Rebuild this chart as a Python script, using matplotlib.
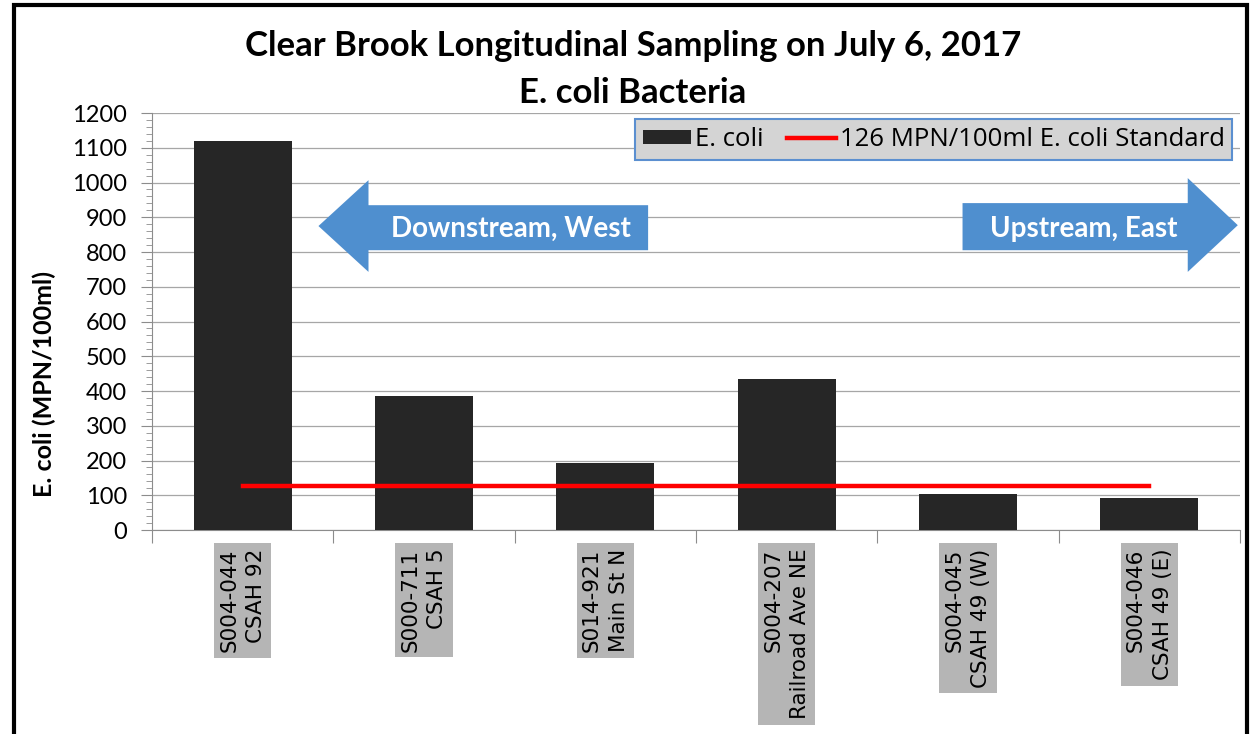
import matplotlib
matplotlib.use("Agg")
import matplotlib.pyplot as plt
from matplotlib.patches import Polygon, Rectangle
from matplotlib.ticker import MultipleLocator

# data
sites = ["S004-044\nCSAH 92", "S000-711\nCSAH 5", "S014-921\nMain St N",
         "S004-207\nRailroad Ave NE", "S004-045\nCSAH 49 (W)", "S004-046\nCSAH 49 (E)"]
ecoli = [1120, 387, 194, 435, 104, 93]
standard = [126, 126, 126, 126, 126, 126]

plt.rcParams['font.family'] = ['Lato', 'DejaVu Sans']

fig = plt.figure(figsize=(12.53, 7.34), dpi=100)
ax = fig.add_axes([0.1213, 0.2779, 0.8683, 0.5681])

x = range(len(sites))
bars = ax.bar(x, ecoli, width=0.54, color='#262626', label='E. coli', zorder=3)
line, = ax.plot(x, standard, color='#ff0000', lw=3.2,
                label='126 MPN/100ml E. coli Standard', zorder=4)

ax.set_xlim(-0.5, len(sites) - 0.5)
ax.set_ylim(0, 1200)
ax.yaxis.set_major_locator(MultipleLocator(100))
ax.yaxis.set_minor_locator(MultipleLocator(20))
ax.grid(axis='y', color='#a6a6a6', lw=0.9, zorder=0)
ax.tick_params(axis='y', which='major', length=8, color='#8c8c8c', labelsize=17, pad=10)
ax.tick_params(axis='y', which='minor', length=4, color='#8c8c8c')

# category boundary ticks on x axis
ax.set_xticks([i + 0.5 for i in range(-1, len(sites))])
ax.set_xticklabels([])
ax.tick_params(axis='x', which='major', length=9, color='#8c8c8c')
for i, s in enumerate(sites):
    ax.text(i, -0.045, s, transform=ax.get_xaxis_transform(), rotation=90,
            ha='center', va='top', multialignment='right', fontsize=15.5,
            family='DejaVu Sans', linespacing=1.4,
            bbox=dict(boxstyle='square,pad=0.25', fc='#b5b5b5', ec='none'))

for side in ['top', 'right']:
    ax.spines[side].set_visible(False)
ax.spines['left'].set_color('#8c8c8c')
ax.spines['bottom'].set_color('#8c8c8c')

ax.set_ylabel('E. coli (MPN/100ml)', fontsize=18, fontweight='bold')
ax.yaxis.set_label_coords(-0.088, 0.35)

fig.text(0.505, 0.938, 'Clear Brook Longitudinal Sampling on July 6, 2017',
         ha='center', va='center', fontsize=25, fontweight='bold')
fig.text(0.505, 0.873, 'E. coli Bacteria', ha='center', va='center',
         fontsize=25, fontweight='bold')

leg = ax.legend([bars, line], [bars.get_label(), line.get_label()],
                loc='upper right', bbox_to_anchor=(0.993, 0.985), ncol=2,
                frameon=True, fancybox=False, facecolor='#d4d4d4',
                edgecolor='#5b8fd0', framealpha=1, handlelength=1.9,
                handleheight=0.5, handletextpad=0.15, columnspacing=0.9,
                borderpad=0.3, borderaxespad=0,
                prop={'family': 'Open Sans', 'size': 18.5})
leg.get_frame().set_linewidth(1.5)

# direction arrows
blue = '#4f8fcf'
left_arrow = [(0.153, 0.729), (0.199, 0.839), (0.199, 0.779), (0.456, 0.779),
              (0.456, 0.671), (0.199, 0.671), (0.199, 0.619)]
right_arrow = [(0.745, 0.784), (0.952, 0.784), (0.952, 0.844), (0.998, 0.731),
               (0.952, 0.619), (0.952, 0.671), (0.745, 0.671)]
for pts in (left_arrow, right_arrow):
    ax.add_patch(Polygon(pts, closed=True, transform=ax.transAxes, fc=blue,
                         ec='none', zorder=5))
ax.text(0.33, 0.722, 'Downstream, West', transform=ax.transAxes, ha='center',
        va='center', color='white', fontsize=20, fontweight='bold', zorder=6)
ax.text(0.856, 0.722, 'Upstream, East', transform=ax.transAxes, ha='center',
        va='center', color='white', fontsize=20, fontweight='bold', zorder=6)

# outer frame
fig.add_artist(Rectangle((0.011, -0.02), 0.984, 1.013, transform=fig.transFigure,
                         fill=False, ec='black', lw=3))

fig.savefig('out.png', dpi=100, facecolor='white')
